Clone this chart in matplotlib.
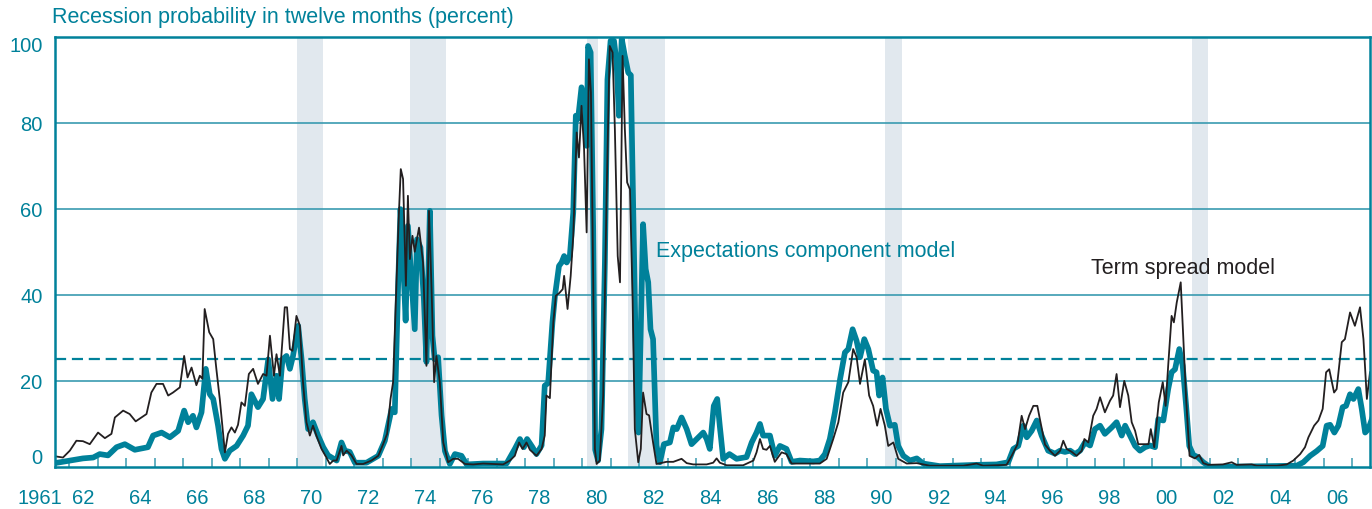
import numpy as np
import matplotlib
matplotlib.use("Agg")
from matplotlib import pyplot as plt
from matplotlib import transforms

plt.rcParams['font.family'] = ['Liberation Sans', 'DejaVu Sans']

TEAL = '#00819a'
GRID = '#3a9bb0'
DARK = '#231f20'
SHADE = '#e1e8ee'

# term spread model (black line), decimal years / percent
term_years = [1961.49, 1961.78, 1962.02, 1962.25, 1962.48, 1962.72, 1963.01, 1963.25, 1963.48, 1963.60,
              1963.89, 1964.12, 1964.33, 1964.71, 1964.88, 1965.06, 1965.29, 1965.47, 1965.64, 1965.88,
              1966.03, 1966.15, 1966.29, 1966.46, 1966.58, 1966.67, 1966.75, 1966.91, 1967.05, 1967.16,
              1967.28, 1967.46, 1967.57, 1967.69, 1967.81, 1967.92, 1968.04, 1968.16, 1968.30, 1968.45,
              1968.62, 1968.80, 1968.92, 1969.04, 1969.18, 1969.27, 1969.39, 1969.56, 1969.64, 1969.74,
              1969.83, 1969.97, 1970.09, 1970.20, 1970.32, 1970.44, 1970.55, 1970.67, 1970.85, 1971.02,
              1971.14, 1971.26, 1971.38, 1971.55, 1971.61, 1971.73, 1971.90, 1972.08, 1972.31, 1972.60,
              1972.84, 1973.01, 1973.15, 1973.27, 1973.36, 1973.48, 1973.56, 1973.63, 1973.71, 1973.81,
              1973.88, 1973.95, 1974.04, 1974.12, 1974.27, 1974.41, 1974.53, 1974.62, 1974.71, 1974.80,
              1974.88, 1975.00, 1975.12, 1975.29, 1975.47, 1975.64, 1975.88, 1976.17, 1976.52, 1976.87,
              1977.22, 1977.46, 1977.63, 1977.78, 1977.90, 1978.04, 1978.16, 1978.39, 1978.57, 1978.68,
              1978.74, 1978.86, 1978.98, 1979.07, 1979.19, 1979.31, 1979.36, 1979.48, 1979.59, 1979.68,
              1979.80, 1979.88, 1979.97, 1980.06, 1980.15, 1980.23, 1980.30, 1980.38, 1980.44, 1980.50,
              1980.61, 1980.73, 1980.85, 1980.96, 1981.06, 1981.14, 1981.24, 1981.32, 1981.41, 1981.49,
              1981.57, 1981.67, 1981.76, 1981.84, 1981.96, 1982.05, 1982.13, 1982.25, 1982.34, 1982.48,
              1982.60, 1982.95, 1983.19, 1983.48, 1983.66, 1983.89, 1984.36, 1984.59, 1984.71, 1984.82,
              1985.06, 1985.64, 1986.00, 1986.11, 1986.23, 1986.34, 1986.46, 1986.58, 1986.75, 1986.99,
              1987.16, 1987.34, 1987.87, 1988.33, 1988.57, 1988.80, 1988.98, 1989.15, 1989.33, 1989.50,
              1989.62, 1989.74, 1989.91, 1990.06, 1990.20, 1990.34, 1990.46, 1990.61, 1990.73, 1990.91,
              1991.08, 1991.38, 1991.73, 1992.19, 1993.36, 1993.83, 1994.06, 1994.88, 1995.06, 1995.26,
              1995.41, 1995.53, 1995.67, 1995.82, 1995.96, 1996.05, 1996.23, 1996.40, 1996.58, 1996.76,
              1996.87, 1996.99, 1997.17, 1997.34, 1997.52, 1997.61, 1997.75, 1997.92, 1998.04, 1998.16,
              1998.33, 1998.51, 1998.62, 1998.74, 1998.86, 1999.01, 1999.15, 1999.27, 1999.39, 1999.50,
              1999.68, 1999.86, 1999.94, 2000.06, 2000.22, 2000.36, 2000.46, 2000.55, 2000.67, 2000.75,
              2000.85, 2000.99, 2001.06, 2001.18, 2001.30, 2001.49, 2001.64, 2001.78, 2001.95, 2002.47,
              2002.78, 2002.95, 2003.48, 2003.66, 2004.36, 2004.71, 2004.94, 2005.18, 2005.35, 2005.47,
              2005.67, 2005.82, 2005.97, 2006.09, 2006.20, 2006.37, 2006.46, 2006.64, 2006.75, 2006.93,
              2007.10, 2007.28, 2007.40, 2007.52, 2007.63]
term_values = [2.5, 2.2, 3.8, 6.1, 6.0, 5.3, 8.0, 6.7, 7.7, 11.5,
               13.1, 12.3, 10.6, 12.3, 17.3, 19.3, 19.3, 16.6, 17.3, 18.5,
               25.8, 20.8, 23.1, 19.0, 21.2, 20.5, 36.7, 31.3, 29.7, 22.8,
               15.8, 3.4, 7.7, 9.2, 8.0, 9.8, 15.0, 14.2, 21.6, 22.8,
               19.3, 21.6, 21.2, 30.5, 21.2, 26.2, 21.2, 37.1, 37.1, 27.4,
               27.0, 35.1, 32.8, 19.7, 10.4, 7.3, 9.6, 7.3, 4.2, 2.2,
               0.7, 1.5, 1.5, 4.9, 2.7, 3.8, 2.7, 0.7, 0.7, 1.5,
               2.6, 5.3, 7.7, 15.8, 19.7, 42.9, 58.3, 69.2, 66.9, 42.1,
               63.0, 48.3, 53.7, 50.0, 55.6, 47.5, 23.5, 59.5, 41.3, 19.7,
               25.8, 19.7, 5.7, 1.1, 1.9, 1.9, 0.7, 0.6, 0.8, 0.7,
               0.6, 1.5, 2.6, 5.7, 4.2, 5.7, 4.0, 2.6, 4.2, 7.3,
               16.6, 16.0, 33.6, 39.8, 40.4, 41.3, 44.4, 36.7, 44.4, 53.7,
               77.7, 71.9, 83.9, 73.8, 54.5, 94.7, 87.0, 43.6, 4.2, 0.7,
               1.5, 16.6, 63.0, 97.8, 96.3, 78.5, 49.0, 42.9, 95.5, 78.5,
               66.1, 64.5, 39.8, 8.8, 1.1, 4.2, 17.3, 12.3, 12.0, 5.7,
               0.7, 1.2, 1.2, 1.9, 0.9, 0.6, 0.6, 1.0, 2.0, 1.0,
               0.4, 0.4, 1.5, 3.4, 6.5, 4.2, 4.0, 4.9, 1.2, 3.4,
               3.0, 0.8, 0.8, 0.8, 1.9, 6.5, 10.4, 17.3, 19.7, 27.4,
               25.5, 19.3, 25.0, 16.6, 14.2, 9.6, 13.5, 9.6, 4.9, 5.7,
               1.9, 0.8, 0.9, 0.3, 0.3, 0.8, 0.3, 0.5, 2.6, 5.2,
               11.9, 8.8, 11.9, 14.2, 14.2, 11.1, 5.2, 3.8, 2.6, 3.8,
               6.1, 4.2, 3.5, 2.6, 3.8, 6.5, 5.7, 11.9, 13.5, 16.2,
               12.7, 15.4, 16.6, 21.6, 13.9, 20.0, 16.6, 10.4, 8.4, 5.3,
               5.3, 5.3, 8.8, 4.6, 15.0, 19.7, 14.2, 23.5, 35.1, 33.6,
               38.2, 42.9, 32.8, 15.8, 2.6, 2.0, 2.8, 0.9, 0.5, 0.6,
               1.1, 0.5, 0.6, 0.3, 0.3, 0.6, 1.5, 3.0, 4.6, 6.9,
               9.6, 10.8, 13.5, 22.0, 22.7, 17.3, 18.1, 29.0, 29.7, 35.9,
               32.8, 37.1, 29.7, 15.8, 22.0]

# expectations component model (teal line)
ecm_years = [1961.49, 1962.02, 1962.48, 1962.84, 1963.07, 1963.36, 1963.66, 1963.95, 1964.30, 1964.76,
             1964.94, 1965.24, 1965.53, 1965.82, 1966.03, 1966.17, 1966.34, 1966.46, 1966.64, 1966.79,
             1966.93, 1967.05, 1967.22, 1967.34, 1967.46, 1967.63, 1967.87, 1968.10, 1968.27, 1968.39,
             1968.62, 1968.80, 1968.98, 1969.13, 1969.27, 1969.36, 1969.48, 1969.62, 1969.74, 1969.85,
             1970.03, 1970.15, 1970.26, 1970.38, 1970.55, 1970.73, 1970.91, 1971.08, 1971.38, 1971.55,
             1971.67, 1971.84, 1972.02, 1972.43, 1972.84, 1973.07, 1973.31, 1973.42, 1973.54, 1973.62,
             1973.71, 1973.80, 1973.88, 1974.01, 1974.12, 1974.20, 1974.32, 1974.44, 1974.53, 1974.65,
             1974.74, 1974.82, 1974.94, 1975.06, 1975.18, 1975.35, 1975.53, 1975.76, 1975.94, 1976.52,
             1977.34, 1977.63, 1977.81, 1977.95, 1978.06, 1978.25, 1978.39, 1978.57, 1978.68, 1978.80,
             1978.95, 1979.04, 1979.18, 1979.27, 1979.36, 1979.45, 1979.56, 1979.68, 1979.77, 1979.85,
             1979.97, 1980.09, 1980.15, 1980.20, 1980.29, 1980.38, 1980.45, 1980.55, 1980.67, 1980.79,
             1980.88, 1980.99, 1981.11, 1981.20, 1981.28, 1981.38, 1981.49, 1981.61, 1981.70, 1981.88,
             1981.97, 1982.05, 1982.13, 1982.22, 1982.31, 1982.39, 1982.48, 1982.60, 1982.72, 1982.86,
             1983.07, 1983.19, 1983.31, 1983.48, 1983.66, 1983.83, 1984.01, 1984.24, 1984.36, 1984.47,
             1984.61, 1984.73, 1984.82, 1984.94, 1985.16, 1985.41, 1985.76, 1985.94, 1986.11, 1986.23,
             1986.34, 1986.58, 1986.75, 1986.93, 1987.16, 1987.34, 1987.63, 1988.10, 1988.33, 1988.51,
             1988.68, 1988.86, 1989.04, 1989.21, 1989.33, 1989.48, 1989.62, 1989.74, 1989.89, 1990.03,
             1990.20, 1990.32, 1990.41, 1990.53, 1990.65, 1990.79, 1990.96, 1991.08, 1991.26, 1991.49,
             1991.73, 1991.96, 1992.54, 1993.83, 1994.53, 1994.94, 1995.12, 1995.29, 1995.47, 1995.59,
             1995.76, 1995.94, 1996.11, 1996.34, 1996.58, 1996.76, 1996.93, 1997.11, 1997.28, 1997.46,
             1997.63, 1997.81, 1997.98, 1998.16, 1998.33, 1998.57, 1998.74, 1998.92, 1999.04, 1999.21,
             1999.39, 1999.56, 1999.74, 1999.91, 2000.09, 2000.20, 2000.38, 2000.55, 2000.67, 2000.79,
             2000.94, 2001.06, 2001.18, 2001.29, 2001.43, 2001.59, 2001.78, 2002.02, 2005.06, 2005.29,
             2005.53, 2005.76, 2005.97, 2006.11, 2006.23, 2006.38, 2006.52, 2006.67, 2006.79, 2006.93,
             2007.05, 2007.22, 2007.34, 2007.46, 2007.57, 2007.69]
ecm_values = [0.9, 1.5, 2.0, 2.2, 3.0, 2.7, 4.6, 5.3, 4.0, 4.6,
              7.3, 8.0, 6.9, 8.4, 13.1, 10.4, 11.9, 9.2, 12.7, 22.8,
              16.9, 15.8, 9.6, 4.2, 1.9, 3.8, 4.9, 7.3, 9.6, 16.9,
              13.9, 15.8, 25.0, 15.8, 21.2, 15.8, 25.0, 25.8, 22.8, 25.8,
              32.8, 25.0, 15.8, 8.8, 10.4, 7.3, 4.6, 2.7, 1.5, 5.7,
              3.8, 3.5, 1.0, 1.0, 2.6, 6.1, 13.5, 12.7, 42.9, 59.9,
              48.3, 34.0, 56.0, 42.9, 32.0, 52.9, 51.0, 39.0, 24.4, 59.5,
              30.5, 25.0, 25.5, 12.0, 3.7, 0.7, 3.0, 2.6, 0.6, 0.8,
              0.8, 4.2, 6.5, 4.6, 6.5, 4.6, 3.0, 5.0, 18.9, 19.5,
              33.6, 39.8, 46.7, 47.5, 49.0, 47.5, 49.0, 59.1, 81.6, 80.9,
              88.2, 83.1, 74.6, 97.8, 96.3, 55.1, 4.0, 1.5, 8.8, 47.5,
              90.0, 99.0, 99.0, 94.0, 81.6, 99.5, 95.5, 91.6, 91.0, 24.4,
              8.0, 32.0, 56.4, 46.0, 42.9, 32.0, 29.7, 5.0, 1.1, 5.3,
              5.7, 9.2, 8.8, 11.5, 8.8, 5.3, 6.5, 8.0, 6.5, 4.2,
              14.2, 15.8, 9.6, 1.9, 3.0, 1.9, 2.3, 5.7, 8.0, 10.0,
              7.3, 7.3, 2.6, 4.9, 4.2, 1.2, 1.5, 1.3, 1.5, 3.0,
              6.5, 12.7, 20.4, 26.6, 27.4, 32.0, 29.3, 25.5, 29.7, 27.4,
              22.4, 22.0, 16.6, 20.8, 13.5, 9.6, 9.8, 4.9, 2.6, 1.5,
              2.0, 0.8, 0.2, 0.5, 0.6, 1.1, 4.2, 4.9, 9.6, 6.9,
              8.4, 10.8, 7.3, 3.8, 3.1, 3.8, 3.5, 3.8, 3.0, 3.8,
              5.7, 5.0, 8.8, 9.6, 7.7, 9.2, 10.4, 7.3, 9.6, 7.3,
              4.9, 3.8, 4.6, 5.0, 4.6, 11.1, 10.8, 18.1, 22.0, 22.7,
              27.4, 23.5, 14.2, 4.9, 2.8, 2.3, 1.1, 0.0, 0.3, 1.1,
              2.6, 3.7, 4.9, 9.6, 9.8, 8.0, 9.6, 13.9, 14.2, 16.9,
              15.8, 18.1, 13.5, 8.0, 8.8, 11.0]

# NBER recessions as shaded on the chart
rec_start = [1970.0, 1973.97, 1980.15, 1981.61, 1990.63, 2001.38]
rec_end = [1970.90, 1975.23, 1980.56, 1982.90, 1991.22, 2001.93]

threshold = 25
y_ticks = [0, 20, 40, 60, 80, 100]
label_years = list(range(1962, 2007, 2))
label_text = [str(y)[2:] for y in label_years]

fig = plt.figure(figsize=(13.72, 5.10), dpi=100)
ax = fig.add_axes([55 / 1372, 42 / 510, 1315 / 1372, 430.5 / 510])

for s, e in zip(rec_start, rec_end):
    ax.axvspan(s, e, color=SHADE, lw=0, zorder=0)

for v in y_ticks[1:-1]:
    ax.axhline(v, color=GRID, lw=1.2, zorder=1)
ax.axhline(threshold, color=TEAL, lw=1.6, dashes=(5, 2.6), zorder=1)

ax.plot(ecm_years, ecm_values, color=TEAL, lw=4.1, solid_joinstyle='round', zorder=3)
ax.plot(term_years, term_values, color=DARK, lw=1.3, zorder=4)

ax.set_xlim(1961.5, 2007.63)
ax.set_ylim(0, 100)

for sp in ax.spines.values():
    sp.set_color(TEAL)
    sp.set_linewidth(1.8)
    sp.set_zorder(5)

# year ticks inside, labels centred on the years
ax.set_xticks(range(1962, 2008))
ax.set_xticklabels([])
ax.tick_params(axis='x', which='major', direction='in', length=6.5, width=1.1, color=GRID)
ax.set_xticks([y + 0.5 for y in label_years], minor=True)
ax.set_xticklabels(label_text, minor=True)
ax.tick_params(axis='x', which='minor', length=0, pad=15, labelsize=14.5, labelcolor=TEAL)
trans = transforms.blended_transform_factory(ax.transData, ax.transAxes)
ax.annotate('1961', xy=(1961.74, 0), xycoords=trans, xytext=(0, -15), textcoords='offset points',
            ha='right', va='top', fontsize=14.5, color=TEAL)

ax.set_yticks(y_ticks)
ax.set_yticklabels([str(v) for v in y_ticks])
ax.tick_params(axis='y', length=0, pad=9, labelsize=14.5, labelcolor=TEAL)
ylabels = ax.get_yticklabels()
ylabels[0].set_va('bottom')
ylabels[-1].set_va('top')

ax.text(1982.58, 50.4, 'Expectations component model', color=TEAL, fontsize=15.5, va='center', ha='left', zorder=6)
ax.text(1997.84, 46.4, 'Term spread model', color=DARK, fontsize=15.5, va='center', ha='left', zorder=6)

fig.text(52 / 1372, 1 - 17 / 510, 'Recession probability in twelve months (percent)',
         color=TEAL, fontsize=15.5, va='center', ha='left')

fig.savefig('out.png', dpi=100)
